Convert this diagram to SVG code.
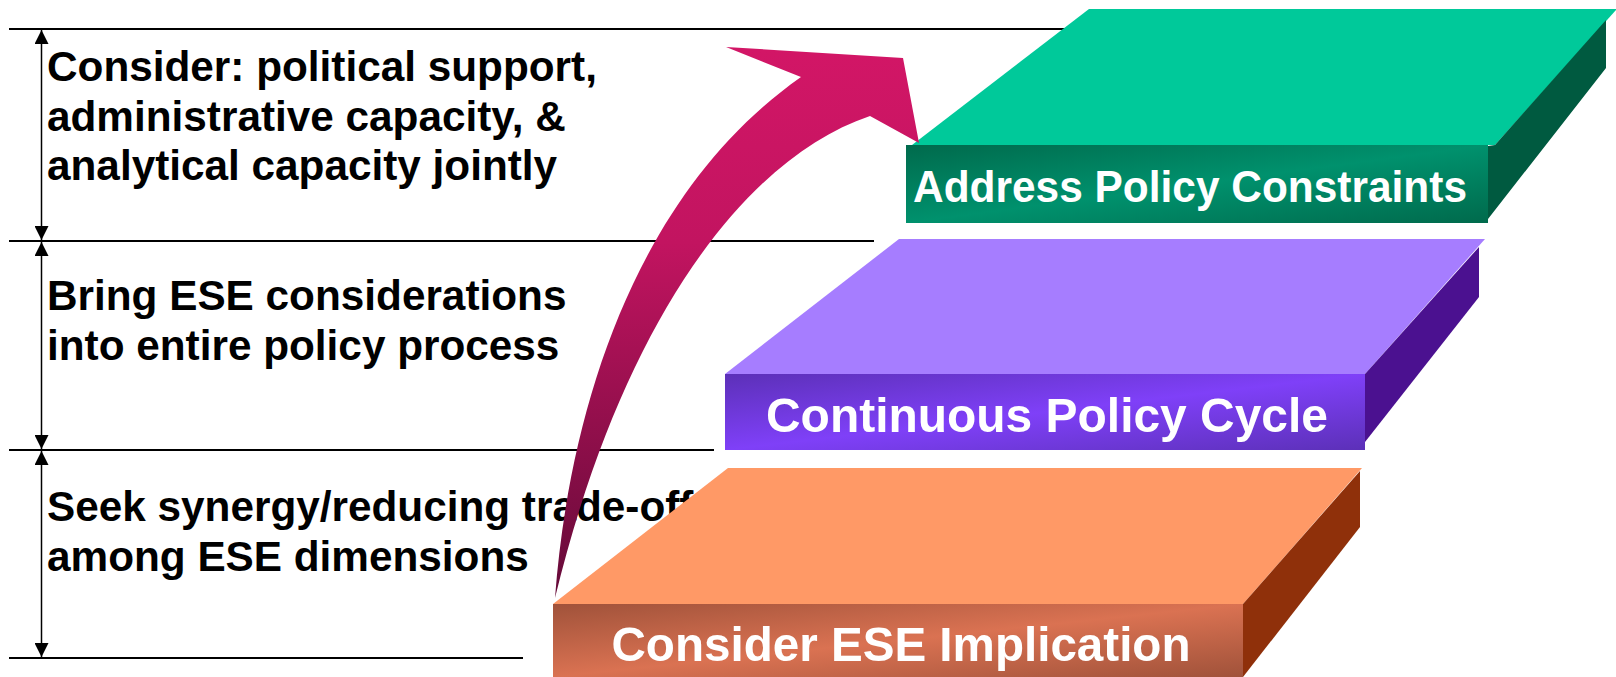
<svg xmlns="http://www.w3.org/2000/svg" width="1616" height="677" viewBox="0 0 1616 677">
<defs>
<style>
.rule{stroke:#000;stroke-width:2;fill:none}
.dim{stroke:#000;stroke-width:1.5;fill:none}
.lt{font-family:"Liberation Sans",Arial,sans-serif;font-weight:bold;font-size:42.3px;fill:#000}
.st{font-family:"Liberation Sans",Arial,sans-serif;font-weight:bold;fill:#fff;text-anchor:middle}
</style>
<marker id="ah" viewBox="0 0 14 14" refX="14" refY="7" markerWidth="14" markerHeight="14" markerUnits="userSpaceOnUse" orient="auto-start-reverse">
<path d="M0,0 L14,7 L0,14 Z" fill="#000"/>
</marker>
<linearGradient id="gFront" x1="0" y1="0" x2="1" y2="1">
<stop offset="0" stop-color="#006a4c"/><stop offset="0.5" stop-color="#00916d"/><stop offset="1" stop-color="#006a4c"/>
</linearGradient>
<linearGradient id="pFront" x1="0" y1="0" x2="1" y2="1">
<stop offset="0" stop-color="#5c30b8"/><stop offset="0.5" stop-color="#7f40f8"/><stop offset="1" stop-color="#5c30b8"/>
</linearGradient>
<linearGradient id="oFront" x1="0" y1="0" x2="1" y2="1">
<stop offset="0" stop-color="#a0523a"/><stop offset="0.5" stop-color="#da7252"/><stop offset="1" stop-color="#a0523a"/>
</linearGradient>
<linearGradient id="arrowGrad" gradientUnits="userSpaceOnUse" x1="0" y1="50" x2="0" y2="600">
<stop offset="0" stop-color="#d21666"/><stop offset="0.35" stop-color="#c21460"/><stop offset="1" stop-color="#640a38"/>
</linearGradient>
</defs>

<g id="guides">
<line class="rule" x1="9" y1="29" x2="1070" y2="29"/>
<line class="rule" x1="9" y1="241" x2="874" y2="241"/>
<line class="rule" x1="9" y1="450" x2="714" y2="450"/>
<line class="rule" x1="9" y1="658" x2="523" y2="658"/>
<line class="dim" x1="41.5" y1="30" x2="41.5" y2="240" marker-start="url(#ah)" marker-end="url(#ah)"/>
<line class="dim" x1="41.5" y1="242" x2="41.5" y2="449" marker-start="url(#ah)" marker-end="url(#ah)"/>
<line class="dim" x1="41.5" y1="451" x2="41.5" y2="657" marker-start="url(#ah)" marker-end="url(#ah)"/>
</g>

<g id="labels">
<text class="lt" x="47" y="81">Consider: political support,</text>
<text class="lt" x="47" y="131">administrative capacity, &amp;</text>
<text class="lt" x="47" y="180">analytical capacity jointly</text>
<text class="lt" x="47" y="310">Bring ESE considerations</text>
<text class="lt" x="47" y="360">into entire policy process</text>
<text class="lt" x="47" y="521">Seek synergy/reducing trade-off</text>
<text class="lt" x="47" y="571">among ESE dimensions</text>
</g>

<g id="slab-constraints">
<polygon points="1089,9 1616,9 1616,10 1495,145 912,145" fill="#00c99a"/>
<polygon points="1488,146 1495,145 1606,20 1606,68 1488,219" fill="#005a40"/>
<rect x="906" y="145" width="582" height="78" fill="url(#gFront)"/>
<text class="st" x="1190" y="202" font-size="44.5" textLength="554" lengthAdjust="spacingAndGlyphs">Address Policy Constraints</text>
</g>

<g id="slab-cycle">
<polygon points="899,239 1485,239 1365,374 725,374" fill="#a67dff"/>
<polygon points="1365,374 1479,247 1479,297 1365,442" fill="#4b1190"/>
<rect x="725" y="374" width="640" height="76" fill="url(#pFront)"/>
<text class="st" x="1047" y="432" font-size="49" textLength="562" lengthAdjust="spacingAndGlyphs">Continuous Policy Cycle</text>
</g>

<g id="slab-implication">
<polygon points="728,468 1362,468 1243,604 553,604" fill="#ff9966"/>
<polygon points="1243,604 1360,471 1360,527 1243,677" fill="#8f300a"/>
<rect x="553" y="604" width="690" height="73" fill="url(#oFront)"/>
<text class="st" x="901" y="661" font-size="48.5" textLength="579" lengthAdjust="spacingAndGlyphs">Consider ESE Implication</text>
</g>

<g id="connectors">
<path d="M555,598 C570,400 640,190 801,77 L726,47 L903,58 L919,143 L870,116 C740,160 620,330 555,598 Z" fill="url(#arrowGrad)"/>
</g>
</svg>
